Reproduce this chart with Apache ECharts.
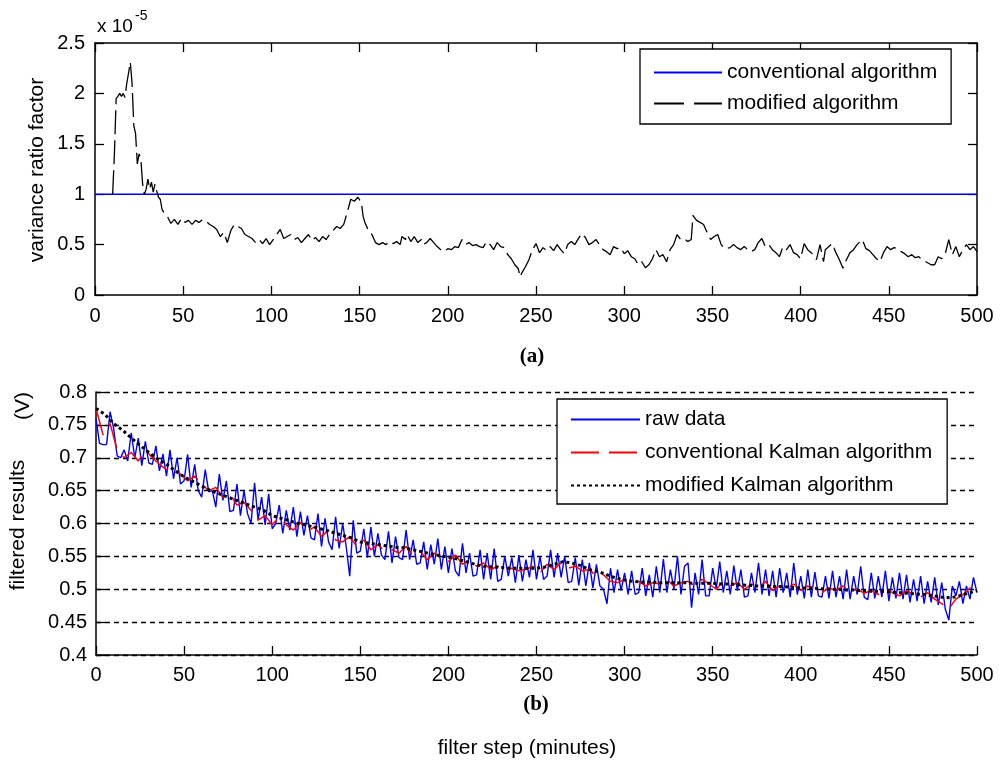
<!DOCTYPE html>
<html>
<head>
<meta charset="utf-8">
<script src="https://cdn.jsdelivr.net/npm/echarts@6/dist/echarts.min.js"></script>
<style>
html,body{margin:0;padding:0;background:#fff;}
#chart{width:1000px;height:761px;}
</style>
</head>
<body>
<div id="chart"></div>
<script>
// (a) variance ratio factor, x 10^-5  -- [filter step, value]
var modRatioPts = [
 [10,1.0],[11,1.4],[12,1.95],[13,1.97],[14,2.0],[15,1.97],[16,2.0],[17,1.96],[18,2.1],[19,2.2],
 [20,2.31],[21,2.1],[22,1.68],[23,1.6],[24,1.3],[25,1.4],[26,1.35],[27,1.1],[28,1.0],[29,1.05],
 [30,1.15],[31,1.05],[32,1.12],[33,1.02],[34,1.1],[35,1.03],[36,0.97],[37,0.95],[38,0.85],[39,0.82],
 [41,0.78],[43,0.71],[45,0.75],[47,0.7],[49,0.76],[51,0.72],[53,0.74],[55,0.7],[57,0.74],[59,0.72],
 [61,0.75],[63,0.73],[65,0.7],[67,0.68],[69,0.65],[71,0.58],[73,0.62],[75,0.52],[77,0.64],[79,0.7],
 [81,0.68],[83,0.66],[85,0.6],[87,0.58],[89,0.56],[91,0.52],[93,0.55],[95,0.51],[97,0.56],[99,0.5],
 [101,0.55],[103,0.6],[105,0.65],[107,0.56],[109,0.58],[111,0.6],[113,0.55],[115,0.57],[117,0.52],[119,0.56],
 [121,0.6],[123,0.54],[125,0.57],[127,0.53],[129,0.58],[131,0.55],[133,0.6],[135,0.64],[137,0.68],[139,0.66],
 [141,0.7],[143,0.82],[145,0.95],[147,0.93],[149,0.97],[151,0.92],[152,0.78],[153,0.72],[155,0.64],[157,0.6],
 [159,0.52],[161,0.5],[163,0.52],[165,0.5],[167,0.53],[169,0.51],[171,0.53],[173,0.5],[174,0.58],[176,0.55],
 [177,0.6],[179,0.53],[181,0.58],[183,0.52],[185,0.55],[186,0.5],[188,0.52],[190,0.56],[192,0.52],[194,0.48],
 [196,0.45],[198,0.43],[200,0.46],[202,0.45],[204,0.48],[206,0.47],[208,0.55],[210,0.5],[212,0.52],[214,0.49],
 [216,0.5],[218,0.48],[220,0.47],[222,0.53],[224,0.5],[226,0.45],[228,0.52],[230,0.48],[232,0.47],[234,0.4],
 [236,0.36],[238,0.3],[240,0.26],[241,0.18],[242,0.22],[244,0.28],[246,0.35],[248,0.45],[250,0.51],[252,0.42],
 [254,0.47],[256,0.44],[258,0.48],[260,0.44],[262,0.5],[264,0.45],[266,0.41],[268,0.5],[270,0.53],[272,0.5],
 [274,0.56],[276,0.61],[278,0.57],[280,0.5],[282,0.52],[284,0.55],[286,0.5],[288,0.45],[290,0.43],[292,0.4],
 [294,0.48],[296,0.46],[298,0.47],[300,0.41],[302,0.44],[304,0.38],[306,0.36],[308,0.3],[310,0.33],[312,0.27],
 [314,0.3],[316,0.36],[318,0.45],[320,0.38],[322,0.4],[324,0.33],[326,0.45],[328,0.5],[330,0.6],[332,0.55],
 [334,0.56],[336,0.53],[338,0.55],[339,0.79],[341,0.74],[343,0.72],[345,0.7],[347,0.62],[349,0.55],[351,0.58],
 [353,0.6],[355,0.5],[357,0.46],[360,0.47],[362,0.5],[364,0.47],[366,0.45],[368,0.48],[370,0.45],[372,0.43],
 [374,0.45],[376,0.52],[378,0.56],[380,0.48],[382,0.5],[384,0.45],[386,0.42],[388,0.38],[390,0.48],[392,0.45],
 [394,0.5],[396,0.42],[398,0.4],[400,0.36],[402,0.51],[404,0.45],[406,0.42],[408,0.38],[409,0.35],[411,0.5],
 [413,0.33],[414,0.45],[416,0.48],[418,0.51],[420,0.42],[422,0.35],[424,0.265],[426,0.35],[428,0.42],[430,0.45],
 [432,0.5],[435,0.55],[437,0.46],[439,0.44],[441,0.4],[443,0.36],[445,0.33],[447,0.42],[449,0.48],[451,0.45],
 [453,0.47],[455,0.46],[457,0.43],[459,0.41],[461,0.38],[463,0.4],[465,0.37],[467,0.38],[469,0.35],[471,0.33],
 [474,0.3],[476,0.3],[478,0.38],[480,0.36],[482,0.41],[484,0.55],[486,0.4],[488,0.48],[490,0.38],[492,0.45],
 [494,0.5],[496,0.45],[498,0.48],[500,0.43]
];
var convRatioPts = [[0,1],[500,1]];

// (b) filtered results (V)
var rawStep = 2;   // raw data, one value every 2 steps from 0
var rawData = [
 .760,.722,.720,.720,.770,.745,.703,.700,.712,.695,
 .738,.700,.730,.688,.725,.692,.690,.718,.680,.706,
 .672,.712,.668,.700,.660,.665,.705,.655,.690,.650,
 .640,.682,.648,.650,.625,.675,.635,.665,.618,.620,
 .660,.612,.650,.615,.600,.662,.605,.640,.598,.645,
 .592,.600,.628,.585,.620,.590,.625,.580,.618,.582,
 .612,.578,.575,.615,.565,.608,.572,.560,.610,.562,
 .600,.565,.520,.605,.555,.558,.592,.548,.595,.550,
 .585,.552,.545,.588,.540,.580,.548,.545,.590,.545,
 .575,.538,.540,.572,.530,.568,.538,.577,.530,.565,
 .525,.562,.528,.520,.570,.525,.555,.520,.522,.560,
 .515,.555,.515,.562,.512,.515,.550,.520,.548,.510,
 .552,.512,.545,.518,.560,.515,.550,.515,.520,.560,
 .518,.555,.518,.550,.510,.512,.548,.506,.545,.505,
 .540,.502,.538,.505,.500,.478,.532,.495,.530,.498,
 .525,.492,.528,.492,.495,.532,.490,.522,.488,.535,
 .495,.546,.495,.530,.500,.550,.492,.535,.540,.472,
 .525,.492,.545,.490,.490,.532,.500,.542,.495,.528,
 .492,.536,.498,.530,.488,.490,.525,.495,.540,.492,
 .530,.490,.528,.488,.532,.495,.525,.488,.540,.492,
 .520,.486,.530,.488,.526,.490,.488,.520,.486,.528,
 .488,.520,.485,.530,.485,.520,.492,.535,.488,.484,
 .525,.486,.520,.488,.528,.482,.518,.486,.525,.485,
 .522,.480,.515,.482,.520,.478,.512,.480,.518,.476,
 .510,.470,.453,.505,.490,.512,.478,.505,.485,.518,
 .495
];
var convStep = 4;  // conventional Kalman, one value every 4 steps
var convData = [
 .775,.735,.752,.712,.700,.708,.695,.712,.700,.690,
 .682,.685,.675,.665,.672,.660,.650,.655,.640,.645,
 .628,.632,.620,.605,.612,.598,.610,.598,.590,.602,
 .588,.595,.580,.590,.575,.572,.580,.565,.575,.560,
 .568,.558,.560,.555,.565,.550,.558,.545,.555,.548,
 .542,.552,.538,.545,.535,.540,.530,.535,.528,.532,
 .528,.530,.535,.525,.538,.530,.540,.532,.535,.528,
 .530,.520,.522,.512,.510,.515,.508,.512,.505,.510,
 .508,.515,.505,.510,.512,.505,.515,.508,.500,.512,
 .505,.510,.500,.508,.502,.512,.498,.505,.500,.508,
 .498,.505,.500,.495,.502,.498,.505,.496,.500,.494,
 .498,.492,.500,.495,.490,.498,.492,.488,.495,.485,
 .478,.470,.485,.492,.502,
 .495
];
var modStep = 5;   // modified Kalman, one value every 5 steps
var modData = [
 .775,.766,.752,.742,.730,.719,.708,.698,.690,.680,
 .671,.664,.657,.650,.645,.640,.635,.630,.625,.620,
 .612,.608,.604,.600,.597,.594,.590,.586,.582,.578,
 .572,.570,.568,.566,.564,.563,.560,.557,.554,.551,
 .549,.546,.542,.538,.535,.534,.533,.532,.532,.532,
 .532,.534,.538,.542,.540,.536,.530,.527,.522,.517,
 .514,.512,.511,.511,.510,.510,.510,.510,.509,.509,
 .509,.508,.508,.507,.506,.505,.505,.504,.504,.503,
 .502,.502,.501,.500,.500,.499,.499,.498,.497,.497,
 .496,.495,.494,.493,.492,.490,.488,.487,.490,.494,
 .498
];

var legendA = ['conventional algorithm', 'modified algorithm'];
var legendB = ['raw data', 'conventional Kalman algorithm', 'modified Kalman algorithm'];

function toPts(arr, step) {
  return arr.map(function (v, i) { return [i * step, v]; });
}

var FONT = '"Liberation Sans", Arial, sans-serif';
var lbl = { color: '#000', fontSize: 20, fontFamily: FONT };
var axLine = { show: true, onZero: false, lineStyle: { color: '#000', width: 1.5 } };
var tick = { show: true, inside: true, length: 9, lineStyle: { color: '#000', width: 1.3 } };

var chart = echarts.init(document.getElementById('chart'));

var option = {
  animation: false,
  backgroundColor: '#fff',
  grid: [
    { left: 95, top: 43, width: 882, height: 252 },
    { left: 96, top: 392, width: 881, height: 263 }
  ],
  xAxis: [
    { gridIndex: 0, type: 'value', min: 0, max: 500, interval: 50, position: 'bottom',
      axisLine: axLine, axisTick: tick, axisLabel: Object.assign({ margin: 11 }, lbl), splitLine: { show: false } },
    { gridIndex: 0, type: 'value', min: 0, max: 500, interval: 50, position: 'top',
      axisLine: axLine, axisTick: tick, axisLabel: { show: false }, splitLine: { show: false } },
    { gridIndex: 1, type: 'value', min: 0, max: 500, interval: 50, position: 'bottom',
      axisLine: axLine, axisTick: tick, axisLabel: Object.assign({ margin: 10 }, lbl), splitLine: { show: false } }
  ],
  yAxis: [
    { gridIndex: 0, type: 'value', min: 0, max: 2.5, interval: 0.5, position: 'left',
      axisLine: axLine, axisTick: tick, axisLabel: Object.assign({ margin: 10 }, lbl), splitLine: { show: false } },
    { gridIndex: 0, type: 'value', min: 0, max: 2.5, interval: 0.5, position: 'right',
      axisLine: axLine, axisTick: tick, axisLabel: { show: false }, splitLine: { show: false } },
    { gridIndex: 1, type: 'value', min: 0.4, max: 0.8, interval: 0.05, position: 'left',
      axisLine: axLine, axisTick: tick,
      axisLabel: Object.assign({ margin: 9, formatter: function (v) { return String(+v.toFixed(2)); } }, lbl),
      splitLine: { show: true, lineStyle: { color: '#000', width: 1.3, type: [5, 4] } } }
  ],
  legend: [
    { data: [legendA[0], { name: legendA[1], lineStyle: { type: [30, 10] } }],
      orient: 'vertical', left: 640, top: 49, selectedMode: false,
      itemWidth: 68, itemHeight: 20, itemGap: 10, padding: [13, 14, 10, 13],
      itemStyle: { opacity: 0 },
      borderColor: '#000', borderWidth: 1.3, backgroundColor: '#fff',
      textStyle: { color: '#000', fontSize: 21, fontFamily: FONT, lineHeight: 20 } },
    { data: legendB, orient: 'vertical', left: 557, top: 399, selectedMode: false,
      itemWidth: 69, itemHeight: 20, itemGap: 12, padding: [10, 15, 8, 13],
      itemStyle: { opacity: 0 },
      borderColor: '#000', borderWidth: 1.3, backgroundColor: '#fff',
      textStyle: { color: '#000', fontSize: 21, fontFamily: FONT, lineHeight: 20 } }
  ],
  series: [
    { name: 'conventional algorithm', type: 'line', xAxisIndex: 0, yAxisIndex: 0,
      data: convRatioPts, symbol: 'none', color: '#0000ff',
      lineStyle: { color: '#0000ff', width: 1.6 } },
    { name: 'modified algorithm', type: 'line', xAxisIndex: 0, yAxisIndex: 0,
      data: modRatioPts, symbol: 'none', color: '#000',
      lineStyle: { color: '#000', width: 1.3, type: [24, 6] } },
    { name: 'raw data', type: 'line', xAxisIndex: 2, yAxisIndex: 2,
      data: toPts(rawData, rawStep), symbol: 'none', color: '#0000ff',
      lineStyle: { color: '#0000ff', width: 1.4 } },
    { name: 'conventional Kalman algorithm', type: 'line', xAxisIndex: 2, yAxisIndex: 2,
      data: toPts(convData, convStep), symbol: 'none', color: '#ff0000',
      lineStyle: { color: '#ff0000', width: 1.5, type: [28, 10] } },
    { name: 'modified Kalman algorithm', type: 'line', xAxisIndex: 2, yAxisIndex: 2,
      data: toPts(modData, modStep), symbol: 'none', color: '#000',
      lineStyle: { color: '#000', width: 3, type: [3, 3], cap: 'butt' } }
  ],
  graphic: [
    { type: 'text', x: 97, y: 27, style: { text: 'x 10', fill: '#000', fontSize: 19, fontFamily: FONT, verticalAlign: 'middle' } },
    { type: 'text', x: 135, y: 16, style: { text: '-5', fill: '#000', fontSize: 14, fontFamily: FONT, verticalAlign: 'middle' } },
    { type: 'text', x: 37, y: 170, rotation: Math.PI / 2,
      style: { text: 'variance ratio factor', fill: '#000', fontSize: 21, fontFamily: FONT, align: 'center', verticalAlign: 'middle' } },
    { type: 'text', x: 532, y: 357,
      style: { text: '(a)', fill: '#000', fontSize: 21, fontWeight: 'bold', fontFamily: '"Liberation Serif", "Times New Roman", serif', align: 'center', verticalAlign: 'middle' } },
    { type: 'text', x: 23, y: 406, rotation: Math.PI / 2,
      style: { text: '(V)', fill: '#000', fontSize: 21, fontFamily: FONT, align: 'center', verticalAlign: 'middle' } },
    { type: 'text', x: 18, y: 525, rotation: Math.PI / 2,
      style: { text: 'filtered results', fill: '#000', fontSize: 21, fontFamily: FONT, align: 'center', verticalAlign: 'middle' } },
    { type: 'text', x: 536, y: 705,
      style: { text: '(b)', fill: '#000', fontSize: 21, fontWeight: 'bold', fontFamily: '"Liberation Serif", "Times New Roman", serif', align: 'center', verticalAlign: 'middle' } },
    { type: 'text', x: 527, y: 748,
      style: { text: 'filter step (minutes)', fill: '#000', fontSize: 21, fontFamily: FONT, align: 'center', verticalAlign: 'middle' } }
  ]
};

chart.setOption(option);

window.onresize = function () {
  chart.resize();
};
</script>
</body>
</html>
